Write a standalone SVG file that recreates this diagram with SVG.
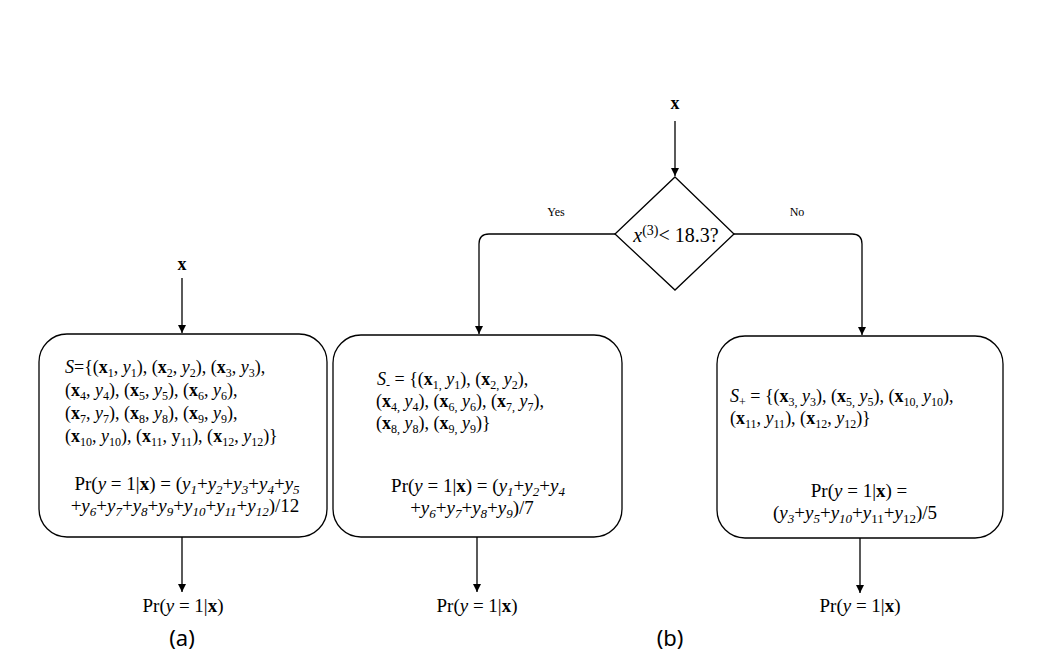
<svg xmlns="http://www.w3.org/2000/svg" width="1049" height="663" viewBox="0 0 1049 663">
<style>
text{font-family:"Liberation Serif","Times New Roman",serif;font-size:18px;fill:#000}
.pr{font-size:19px}
.b{font-weight:bold}
.i{font-style:italic}
.s{font-size:12px;baseline-shift:-4px}
.pr .s{font-size:13px}
.sp{font-size:14px;baseline-shift:7px}
.dt{font-size:20px}
.lbl{font-size:12px}
.cap{font-family:"Noto Sans","Open Sans",sans-serif;font-size:22px}
.node{fill:#fff;stroke:#000;stroke-width:1.3}
.edge{fill:none;stroke:#000;stroke-width:1.3}
</style>
<defs>
<marker id="ah" markerUnits="userSpaceOnUse" markerWidth="10" markerHeight="12" refX="8" refY="5" orient="auto">
<path d="M0,1 L8,5 L0,9 Z" fill="#000"/>
</marker>
</defs>
<rect width="1049" height="663" fill="#fff"/>

<g id="connectors">
<line class="edge" x1="182" y1="278" x2="182" y2="333" marker-end="url(#ah)"/>
<line class="edge" x1="182" y1="537" x2="182" y2="592" marker-end="url(#ah)"/>
<line class="edge" x1="675" y1="121" x2="675" y2="176" marker-end="url(#ah)"/>
<path class="edge" d="M615,234 H489 Q479,234 479,244 V334" marker-end="url(#ah)"/>
<path class="edge" d="M734,234 H852 Q862,234 862,244 V335" marker-end="url(#ah)"/>
<line class="edge" x1="477" y1="537" x2="477" y2="592" marker-end="url(#ah)"/>
<line class="edge" x1="860" y1="538" x2="860" y2="593" marker-end="url(#ah)"/>
<text class="lbl" x="556" y="216" text-anchor="middle">Yes</text>
<text class="lbl" x="797" y="216" text-anchor="middle">No</text>
</g>

<g id="input-a">
<text class="b" x="182" y="270" text-anchor="middle">x</text>
</g>

<g id="box-a">
<rect class="node" x="39" y="334" width="288" height="203" rx="28" ry="28"/>
<text x="65" y="373"><tspan class="i">S</tspan>={(<tspan class="b">x</tspan><tspan class="s">1</tspan>, <tspan class="i">y</tspan><tspan class="s">1</tspan>), (<tspan class="b">x</tspan><tspan class="s">2</tspan>, <tspan class="i">y</tspan><tspan class="s">2</tspan>), (<tspan class="b">x</tspan><tspan class="s">3</tspan>, <tspan class="i">y</tspan><tspan class="s">3</tspan>),</text>
<text x="65" y="396">(<tspan class="b">x</tspan><tspan class="s">4</tspan>, <tspan class="i">y</tspan><tspan class="s">4</tspan>), (<tspan class="b">x</tspan><tspan class="s">5</tspan>, <tspan class="i">y</tspan><tspan class="s">5</tspan>), (<tspan class="b">x</tspan><tspan class="s">6</tspan>, <tspan class="i">y</tspan><tspan class="s">6</tspan>),</text>
<text x="65" y="419">(<tspan class="b">x</tspan><tspan class="s">7</tspan>, <tspan class="i">y</tspan><tspan class="s">7</tspan>), (<tspan class="b">x</tspan><tspan class="s">8</tspan>, <tspan class="i">y</tspan><tspan class="s">8</tspan>), (<tspan class="b">x</tspan><tspan class="s">9</tspan>, <tspan class="i">y</tspan><tspan class="s">9</tspan>),</text>
<text x="65" y="442">(<tspan class="b">x</tspan><tspan class="s">10</tspan>, <tspan class="i">y</tspan><tspan class="s">10</tspan>), (<tspan class="b">x</tspan><tspan class="s">11</tspan>, y<tspan class="s">11</tspan>), (<tspan class="b">x</tspan><tspan class="s">12</tspan>, <tspan class="i">y</tspan><tspan class="s">12</tspan>)}</text>
<text class="pr" x="187" y="490" text-anchor="middle">Pr(<tspan class="i">y</tspan> = 1|<tspan class="b">x</tspan>) = (<tspan class="i">y</tspan><tspan class="s i">1</tspan>+<tspan class="i">y</tspan><tspan class="s i">2</tspan>+<tspan class="i">y</tspan><tspan class="s i">3</tspan>+<tspan class="i">y</tspan><tspan class="s i">4</tspan>+<tspan class="i">y</tspan><tspan class="s i">5</tspan></text>
<text class="pr" x="185" y="512" text-anchor="middle">+<tspan class="i">y</tspan><tspan class="s i">6</tspan>+<tspan class="i">y</tspan><tspan class="s i">7</tspan>+<tspan class="i">y</tspan><tspan class="s i">8</tspan>+<tspan class="i">y</tspan><tspan class="s i">9</tspan>+<tspan class="i">y</tspan><tspan class="s i">10</tspan>+<tspan class="i">y</tspan><tspan class="s i">11</tspan>+<tspan class="i">y</tspan><tspan class="s i">12</tspan>)/12</text>
</g>

<g id="output-a">
<text class="pr" x="183" y="612" text-anchor="middle">Pr(<tspan class="i">y</tspan> = 1|<tspan class="b">x</tspan>)</text>
</g>

<g id="caption-a">
<text class="cap" x="182" y="646" text-anchor="middle">(a)</text>
</g>

<g id="input-b">
<text class="b" x="675" y="109" text-anchor="middle">x</text>
</g>

<g id="decision">
<polygon class="node" points="675,177 734,234 675,290 615,234"/>
<text class="dt" x="676" y="242" text-anchor="middle"><tspan class="i">x</tspan><tspan class="sp">(3)</tspan>&lt; 18.3?</text>
</g>

<g id="box-minus">
<rect class="node" x="333" y="335" width="289" height="202" rx="28" ry="28"/>
<text x="377" y="385"><tspan class="i">S</tspan><tspan class="s">-</tspan> = {(<tspan class="b">x</tspan><tspan class="s">1,</tspan> <tspan class="i">y</tspan><tspan class="s">1</tspan>), (<tspan class="b">x</tspan><tspan class="s">2,</tspan> <tspan class="i">y</tspan><tspan class="s">2</tspan>),</text>
<text x="376" y="407">(<tspan class="b">x</tspan><tspan class="s">4,</tspan> <tspan class="i">y</tspan><tspan class="s">4</tspan>), (<tspan class="b">x</tspan><tspan class="s">6,</tspan> <tspan class="i">y</tspan><tspan class="s">6</tspan>), (<tspan class="b">x</tspan><tspan class="s">7,</tspan> <tspan class="i">y</tspan><tspan class="s">7</tspan>),</text>
<text x="376" y="429">(<tspan class="b">x</tspan><tspan class="s">8,</tspan> <tspan class="i">y</tspan><tspan class="s">8</tspan>), (<tspan class="b">x</tspan><tspan class="s">9,</tspan> <tspan class="i">y</tspan><tspan class="s">9</tspan>)}</text>
<text class="pr" x="478" y="492" text-anchor="middle">Pr(<tspan class="i">y</tspan> = 1|<tspan class="b">x</tspan>) = (<tspan class="i">y</tspan><tspan class="s i">1</tspan>+<tspan class="i">y</tspan><tspan class="s i">2</tspan>+<tspan class="i">y</tspan><tspan class="s i">4</tspan></text>
<text class="pr" x="472" y="514" text-anchor="middle">+<tspan class="i">y</tspan><tspan class="s i">6</tspan>+<tspan class="i">y</tspan><tspan class="s i">7</tspan>+<tspan class="i">y</tspan><tspan class="s i">8</tspan>+<tspan class="i">y</tspan><tspan class="s i">9</tspan>)/7</text>
</g>

<g id="output-minus">
<text class="pr" x="477" y="612" text-anchor="middle">Pr(<tspan class="i">y</tspan> = 1|<tspan class="b">x</tspan>)</text>
</g>

<g id="caption-b">
<text class="cap" x="670" y="646" text-anchor="middle">(b)</text>
</g>

<g id="box-plus">
<rect class="node" x="717" y="336" width="286" height="202" rx="28" ry="28"/>
<text x="730" y="402"><tspan class="i">S</tspan><tspan class="s">+</tspan> = {(<tspan class="b">x</tspan><tspan class="s">3,</tspan> <tspan class="i">y</tspan><tspan class="s">3</tspan>), (<tspan class="b">x</tspan><tspan class="s">5,</tspan> <tspan class="i">y</tspan><tspan class="s">5</tspan>), (<tspan class="b">x</tspan><tspan class="s">10,</tspan> <tspan class="i">y</tspan><tspan class="s">10</tspan>),</text>
<text x="730" y="424">(<tspan class="b">x</tspan><tspan class="s">11</tspan>, <tspan class="i">y</tspan><tspan class="s">11</tspan>), (<tspan class="b">x</tspan><tspan class="s">12</tspan>, <tspan class="i">y</tspan><tspan class="s">12</tspan>)}</text>
<text class="pr" x="859" y="497" text-anchor="middle">Pr(<tspan class="i">y</tspan> = 1|<tspan class="b">x</tspan>) =</text>
<text class="pr" x="855" y="519" text-anchor="middle">(<tspan class="i">y</tspan><tspan class="s i">3</tspan>+<tspan class="i">y</tspan><tspan class="s i">5</tspan>+<tspan class="i">y</tspan><tspan class="s i">10</tspan>+<tspan class="i">y</tspan><tspan class="s">11</tspan>+<tspan class="i">y</tspan><tspan class="s">12</tspan>)/5</text>
</g>

<g id="output-plus">
<text class="pr" x="860" y="612" text-anchor="middle">Pr(<tspan class="i">y</tspan> = 1|<tspan class="b">x</tspan>)</text>
</g>
</svg>
